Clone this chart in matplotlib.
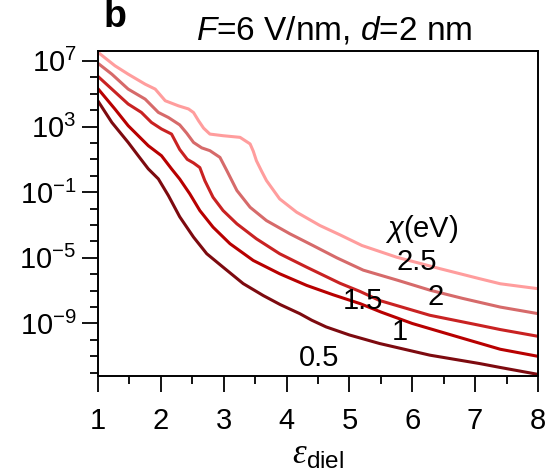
import matplotlib
matplotlib.use('Agg')
import matplotlib.pyplot as plt
import matplotlib.ticker as mticker
import numpy as np

plt.rcParams['font.family'] = ['Liberation Sans', 'DejaVu Sans']
plt.rcParams['mathtext.fontset'] = 'custom'
plt.rcParams['mathtext.rm'] = 'Liberation Sans'
plt.rcParams['mathtext.it'] = 'Liberation Sans:italic'
plt.rcParams['mathtext.bf'] = 'Liberation Sans:bold'
plt.rcParams['mathtext.cal'] = 'Liberation Serif:italic'

# chi = 2.5 eV  (values are log10 of the plotted quantity)
eps_25 = [1.0, 1.27, 1.48, 1.75, 1.91, 2.07, 2.28, 2.44, 2.52, 2.60, 2.68, 2.78, 2.99,
          3.26, 3.42, 3.47, 3.52, 3.60, 3.68, 3.89, 4.16, 4.53, 4.85, 5.2, 5.75, 6.44,
          7.07, 7.4, 8.0]
log_25 = [7.52, 6.70, 6.19, 5.58, 5.28, 4.57, 4.26, 4.07, 3.85, 3.35, 2.9, 2.54, 2.44,
          2.34, 1.94, 1.5, 0.92, 0.3, -0.29, -1.41, -2.22, -3.03, -3.6, -4.25, -4.96,
          -5.66, -6.27, -6.58, -6.88]
# chi = 2 eV
eps_2 = [1.0, 1.22, 1.48, 1.75, 1.96, 2.12, 2.30, 2.41, 2.52, 2.65, 2.78, 2.94, 3.05,
         3.21, 3.42, 3.68, 4.05, 4.42, 4.8, 5.22, 5.77, 6.29, 6.80, 7.4, 8.0]
log_2 = [6.85, 6.19, 5.28, 4.67, 3.86, 3.55, 3.1, 2.6, 2.03, 1.7, 1.53, 1.12, 0.31,
         -0.90, -1.92, -2.73, -3.53, -4.25, -5.0, -5.75, -6.37, -6.98, -7.47, -8.0, -8.4]
# chi = 1.5 eV
eps_15 = [1.0, 1.22, 1.48, 1.69, 1.85, 2.01, 2.17, 2.30, 2.42, 2.52, 2.62, 2.70, 2.83,
          2.99, 3.21, 3.52, 3.89, 4.32, 4.85, 5.17, 5.48, 6.28, 7.07, 7.4, 8.0]
log_15 = [6.05, 5.28, 4.37, 3.86, 3.25, 2.85, 2.54, 1.6, 1.0, 0.78, 0.5, -0.3, -1.31,
          -2.12, -2.93, -3.84, -4.75, -5.57, -6.55, -7.05, -7.6, -8.5, -9.11, -9.37, -9.78]
# chi = 1 eV
eps_1 = [1.0, 1.27, 1.48, 1.64, 1.80, 2.01, 2.17, 2.30, 2.46, 2.62, 2.83, 3.10, 3.47,
         3.89, 4.32, 4.74, 5.17, 5.5, 6.0, 6.8, 7.4, 8.0]
log_1 = [5.3, 4.06, 3.05, 2.44, 1.83, 1.22, 0.42, -0.2, -1.1, -2.12, -3.13, -4.14, -5.16,
         -5.97, -6.68, -7.25, -7.79, -8.3, -9.0, -9.9, -10.57, -11.0]
# chi = 0.5 eV
eps_05 = [1.0, 1.22, 1.48, 1.64, 1.80, 1.96, 2.12, 2.30, 2.52, 2.73, 2.99, 3.31, 3.63,
          3.9, 4.21, 4.4, 4.63, 5.0, 5.48, 6.28, 7.07, 7.4, 8.0]
log_05 = [4.55, 3.25, 2.03, 1.22, 0.42, -0.19, -1.21, -2.5, -3.74, -4.75, -5.57, -6.57,
          -7.3, -7.85, -8.40, -8.8, -9.21, -9.7, -10.22, -10.93, -11.44, -11.68, -12.1]

series = [(eps_05, log_05, '#7d0a0f'),
          (eps_1, log_1, '#b80000'),
          (eps_15, log_15, '#c92222'),
          (eps_2, log_2, '#d66a6a'),
          (eps_25, log_25, '#ff9d9d')]

fig = plt.figure(figsize=(5.46, 4.75), dpi=100)
ax = fig.add_axes([0.1795, 0.2084, 0.8058, 0.6842])

for eps, lg, col in series:
    ax.plot(eps, 10.0 ** np.array(lg), color=col, lw=2.2,
            solid_capstyle='round', solid_joinstyle='round')

ax.set_yscale('log')
ax.set_xlim(1, 8)
ax.set_ylim(10 ** -12.2, 10 ** 7.6)

ax.xaxis.set_major_locator(mticker.MultipleLocator(1))
ax.xaxis.set_minor_locator(mticker.MultipleLocator(0.5))
ax.yaxis.set_major_locator(mticker.FixedLocator([1e7, 1e3, 1e-1, 1e-5, 1e-9]))
ax.yaxis.set_minor_locator(mticker.FixedLocator([10.0 ** k for k in range(-12, 8)]))
ax.yaxis.set_minor_formatter(mticker.NullFormatter())
ax.yaxis.set_major_formatter(mticker.LogFormatterSciNotation())

ax.tick_params(which='major', direction='out', length=11.5, width=1.3, labelsize=21, pad=4)
ax.tick_params(which='minor', direction='out', length=6, width=1.3)
ax.tick_params(axis='x', which='major', pad=11)
for s in ax.spines.values():
    s.set_linewidth(1.4)

ax.set_xlabel(r'$\mathcal{\varepsilon}_{\rm diel}$', fontsize=25, labelpad=2)

fig.text(334 / 546, 1 - 30 / 475, r'$F$=6 V/nm, $d$=2 nm', fontsize=24,
         ha='center', va='center')
fig.text(104 / 546, 1 - 17 / 475, 'b', fontsize=27, fontweight='bold',
         ha='left', va='center')

ax.text(6.15, 10 ** -3.27, r'$\chi$(eV)', fontsize=21, ha='center', va='center')
ax.text(6.07, 10 ** -5.28, '2.5', fontsize=21, ha='center', va='center')
ax.text(6.37, 10 ** -7.41, '2', fontsize=21, ha='center', va='center')
ax.text(5.21, 10 ** -7.65, '1.5', fontsize=21, ha='center', va='center')
ax.text(5.80, 10 ** -9.53, '1', fontsize=21, ha='center', va='center')
ax.text(4.51, 10 ** -11.12, '0.5', fontsize=21, ha='center', va='center')

fig.savefig('out.png', dpi=100)
